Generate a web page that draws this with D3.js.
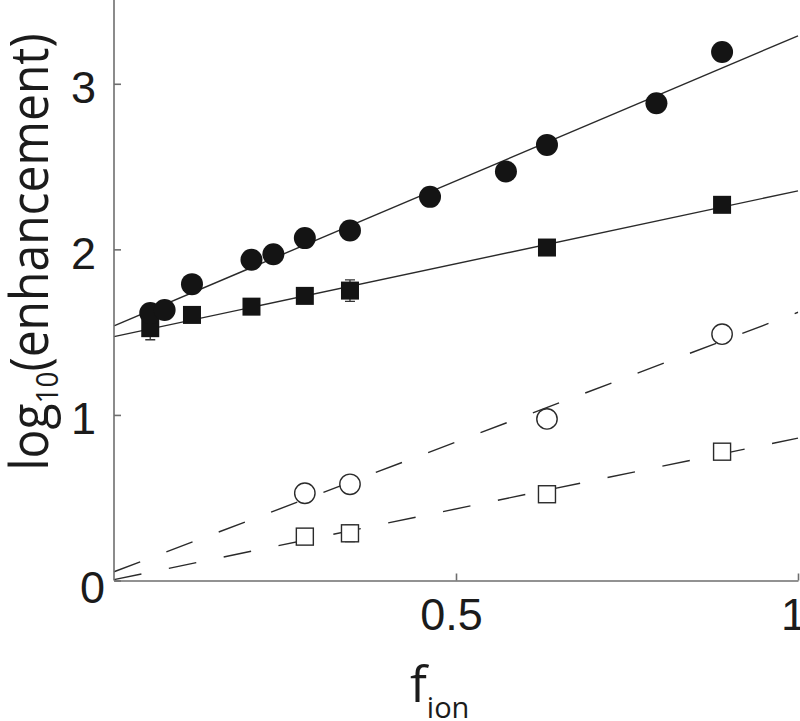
<!DOCTYPE html>
<html>
<head>
<meta charset="utf-8">
<script src="https://cdn.jsdelivr.net/npm/d3@7/dist/d3.min.js"></script>
<style>
  body { margin: 0; background: #fff; }
  svg { display: block; font-family: "Open Sans", sans-serif; }
</style>
</head>
<body>
<div id="chart-area"></div>
<script>
// data
var xTicks = [0.5, 1];
var yTicks = [0, 1, 2, 3];

var filledCircleX = [0.053, 0.074, 0.114, 0.201, 0.233, 0.279, 0.345, 0.462, 0.573, 0.633, 0.793, 0.889];
var filledCircleY = [1.615, 1.634, 1.790, 1.937, 1.971, 2.068, 2.114, 2.317, 2.470, 2.631, 2.883, 3.192];

var filledSquareX = [0.053, 0.114, 0.201, 0.279, 0.345, 0.633, 0.889];
var filledSquareY = [1.524, 1.604, 1.654, 1.719, 1.751, 2.011, 2.269];
var filledSquareErr = [0.07, 0, 0, 0, 0.065, 0, 0];

var openX = [0.279, 0.345, 0.633, 0.889];
var openCircleY = [0.527, 0.581, 0.976, 1.488];
var openSquareY = [0.265, 0.285, 0.521, 0.778];
var openSquareErr = [0, 0.05, 0, 0];

// fitted lines, values at f_ion = 0 and 1
var fitX = [0, 1];
var fitFilledCircle = [1.538, 3.29];
var fitFilledSquare = [1.473, 2.353];
var fitOpenCircle = [0.053, 1.62];
var fitOpenSquare = [0.005, 0.86];

var width = 800, height = 721;
var margin = { left: 114, right: 2, top: 1, bottom: 140.5 };

var svg = d3.select("#chart-area")
    .append("svg")
        .attr("width", width)
        .attr("height", height);

var x = d3.scaleLinear()
    .domain([0, 1])
    .range([margin.left, width - margin.right]);
var y = d3.scaleLinear()
    .domain([0, 3.5])
    .range([height - margin.bottom, margin.top]);

var axisColor = "#6e6e6e";
var ink = "#1b1b1b";

//Fit lines
var line = d3.line()
    .x(function(d) { return x(d[0]); })
    .y(function(d) { return y(d[1]); });

function fit(vals, dashed) {
    svg.append("path")
        .datum(fitX.map(function(v, i) { return [v, vals[i]]; }))
        .attr("d", line)
        .attr("fill", "none")
        .attr("stroke", "#2a2a2a")
        .attr("stroke-width", 1.4)
        .attr("stroke-dasharray", dashed ? "28,28" : null);
}
fit(fitFilledCircle, false);
fit(fitFilledSquare, false);
fit(fitOpenCircle, true);
fit(fitOpenSquare, true);

//Axes
var xAxisCall = d3.axisBottom(x)
    .tickValues(xTicks)
    .tickSizeInner(-7)
    .tickSizeOuter(0)
    .tickPadding(0)
    .tickFormat(d3.format("~g"));
var gx = svg.append("g")
    .attr("transform", "translate(0," + y(0) + ")")
    .call(xAxisCall);
gx.selectAll("text")
    .attr("y", 49)
    .attr("dy", 0)
    .attr("dx", -5)
    .attr("font-size", "45px")
    .attr("fill", ink);

var yAxisCall = d3.axisLeft(y)
    .tickValues(yTicks)
    .tickSizeInner(-7)
    .tickSizeOuter(0)
    .tickPadding(0)
    .tickFormat(d3.format("d"));
var gy = svg.append("g")
    .attr("transform", "translate(" + x(0) + ",0)")
    .call(yAxisCall);
gy.select(".domain").attr("d", "M0," + y(0) + "V0");
gy.selectAll("text")
    .attr("x", function(d) { return d === 0 ? -9 : -18; })
    .attr("dy", function(d) { return d === 0 ? 22 : 19; })
    .attr("font-size", "45px")
    .attr("fill", ink);

svg.selectAll(".domain, .tick line")
    .attr("stroke", axisColor)
    .attr("stroke-width", 1.6);

//Error bars
function errBars(xs, ys, errs) {
    xs.forEach(function(v, i) {
        if (!errs[i]) return;
        var cx = x(v), y0 = y(ys[i] - errs[i]), y1 = y(ys[i] + errs[i]);
        svg.append("path")
            .attr("d", "M" + cx + "," + y0 + "V" + y1 +
                "M" + (cx - 5) + "," + y0 + "H" + (cx + 5) +
                "M" + (cx - 5) + "," + y1 + "H" + (cx + 5))
            .attr("stroke", "#333")
            .attr("stroke-width", 1.3)
            .attr("fill", "none");
    });
}
errBars(filledSquareX, filledSquareY, filledSquareErr);
errBars(openX, openSquareY, openSquareErr);

//Markers
var sqFilled = 18, sqOpen = 17;

svg.selectAll(".fsq")
    .data(filledSquareX)
    .enter().append("rect")
    .attr("class", "fsq")
    .attr("x", function(d) { return x(d) - sqFilled / 2; })
    .attr("y", function(d, i) { return y(filledSquareY[i]) - sqFilled / 2; })
    .attr("width", sqFilled)
    .attr("height", sqFilled)
    .attr("fill", "#141414");

svg.selectAll(".fci")
    .data(filledCircleX)
    .enter().append("circle")
    .attr("class", "fci")
    .attr("cx", function(d) { return x(d); })
    .attr("cy", function(d, i) { return y(filledCircleY[i]); })
    .attr("r", 11)
    .attr("fill", "#141414");

svg.selectAll(".oci")
    .data(openX)
    .enter().append("circle")
    .attr("class", "oci")
    .attr("cx", function(d) { return x(d); })
    .attr("cy", function(d, i) { return y(openCircleY[i]); })
    .attr("r", 10.2)
    .attr("fill", "#fff")
    .attr("stroke", "#2a2a2a")
    .attr("stroke-width", 1.4);

svg.selectAll(".osq")
    .data(openX)
    .enter().append("rect")
    .attr("class", "osq")
    .attr("x", function(d) { return x(d) - sqOpen / 2; })
    .attr("y", function(d, i) { return y(openSquareY[i]) - sqOpen / 2; })
    .attr("width", sqOpen)
    .attr("height", sqOpen)
    .attr("fill", "#fff")
    .attr("stroke", "#2a2a2a")
    .attr("stroke-width", 1.4);

//Labels
var yLabel = svg.append("text")
    .attr("transform", "translate(48,252) rotate(-90) scale(1,1.12)")
    .attr("text-anchor", "middle")
    .attr("font-size", "48px")
    .attr("fill", ink);
yLabel.append("tspan").text("log");
yLabel.append("tspan").attr("font-size", "28px").attr("dy", 9).text("10");
yLabel.append("tspan").attr("dy", -9).text("(enhancement)");

var xLabel = svg.append("text")
    .attr("x", 410)
    .attr("y", 702)
    .attr("font-size", "50px")
    .attr("fill", ink);
xLabel.append("tspan").text("f");
xLabel.append("tspan").attr("font-size", "29px").attr("dy", 16).text("ion");
</script>
</body>
</html>
